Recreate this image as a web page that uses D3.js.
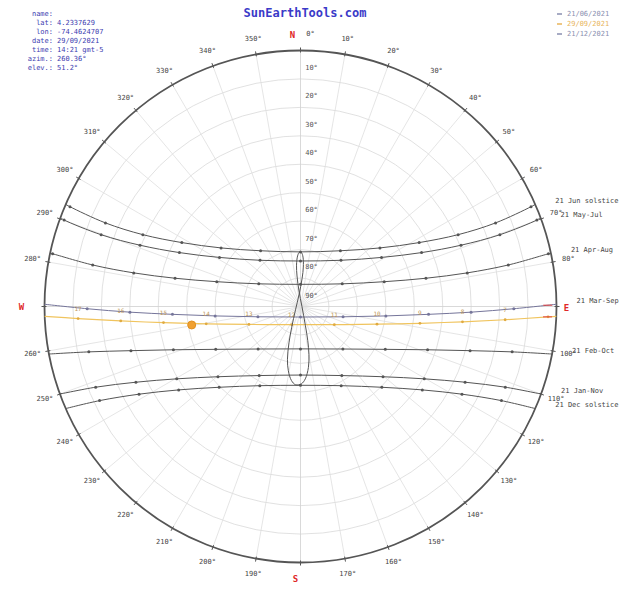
<!DOCTYPE html>
<html><head><meta charset="utf-8">
<script src="https://cdn.jsdelivr.net/npm/d3@7"></script>
<style>
html,body{margin:0;padding:0;background:#fff;}
svg{display:block;font-family:"DejaVu Sans Mono",monospace;}
</style></head><body>
<svg id="chart" width="623" height="590"></svg>
<script>
// Hourly sun positions [azimuth°, elevation°] for the 21st of each month pair
const junSolstice = [[66.6,1.7],[66.8,15.4],[65.5,29.1],[61.7,42.6],[53.6,55.3],[35.6,65.9],[0,70.8],[324.4,65.9],[306.4,55.3],[298.3,42.6],[294.5,29.1],[293.2,15.4],[293.4,1.7]];
const mayJul = [[69.9,1.5],[70.2,15.5],[69.1,29.6],[66.0,43.4],[58.8,56.7],[41.2,68.4],[0,74.0],[318.8,68.4],[301.2,56.7],[294.0,43.4],[290.9,29.6],[289.8,15.5],[290.1,1.5]];
const aprAug = [[78.0,0.9],[78.7,15.5],[78.6,30.2],[77.3,44.8],[73.5,59.3],[61.5,73.3],[0,82.2],[298.5,73.3],[286.5,59.3],[282.7,44.8],[281.4,30.2],[281.3,15.5],[282.0,0.9]];
const marSep = [[90.6,15.0],[91.9,30.0],[93.5,44.9],[96.3,59.8],[103.6,74.6],[180,86.3],[256.4,74.6],[263.7,59.8],[266.5,44.9],[268.1,30.0],[269.4,15.0]];
const febOct = [[102.1,13.9],[104.6,28.4],[108.8,42.8],[116.8,56.6],[135.1,68.9],[180,75.1],[224.9,68.9],[243.2,56.6],[251.2,42.8],[255.4,28.4],[257.9,13.9]];
const janNov = [[111.5,12.6],[114.7,26.3],[120.3,39.6],[130.4,51.9],[149.1,61.7],[180,65.9],[210.9,61.7],[229.6,51.9],[239.7,39.6],[245.3,26.3],[248.5,12.6]];
const decSolstice = [[115.1,12.0],[118.5,25.4],[124.4,38.1],[134.8,49.7],[152.8,58.7],[180,62.3],[207.2,58.7],[225.2,49.7],[235.6,38.1],[241.5,25.4],[244.9,12.0]];

const pathNames = ["21 Jun solstice","21 May-Jul","21 Apr-Aug","21 Mar-Sep","21 Feb-Oct","21 Jan-Nov","21 Dec solstice"];
const riseAz = [66.5, 69.7, 78.0, 89.5, 100.7, 110.0, 113.5];
const setAz  = [293.5, 290.3, 282.0, 270.5, 259.3, 250.0, 246.5];

// Selected day 29/09/2021, clock hours 6..17
const todayClock = [6,7,8,9,10,11,12,13,14,15,16,17];
const todayHours = [[92.4,2.9],[93.7,17.9],[95.4,32.8],[98.0,47.6],[103.0,62.4],[118.2,76.5],[205.7,82.9],[250.8,70.8],[259.6,56.3],[263.3,41.5],[265.4,26.6],[266.9,11.7]];
const todayRise = 92.2, todaySet = 267.8;
const sunNow = [260.36, 51.2];
const riseMarks = [[89.7,2.9],[92.4,2.9]];

// Analemma at 12:00 clock time (1st and 15th of each month)
const analemma = [[179.4,62.8],[176.2,64.5],[172.6,68.4],[170.0,72.9],[168.0,77.7],[165.5,83.2],[81.6,89.5],[354.4,84.5],[353.5,79.2],[354.5,75.4],[356.7,72.2],[358.8,70.9],[1.1,71.1],[2.9,72.6],[4.1,76.1],[3.3,80.1],[353.0,85.8],[236.6,87.9],[203.0,82.1],[197.6,76.6],[193.9,70.9],[190.7,67.0],[187.0,63.8],[183.5,62.4]];

const elevTicks = [10,20,30,40,50,60,70,80,90];
const azTicks = d3.range(0, 360, 10);
const infoKeys = ["name:","lat:","lon:","date:","time:","azim.:","elev.:"];
const infoVals = ["","4.2337629","-74.4624707","29/09/2021","14:21 gmt-5","260.36°","51.2°"];
const legendDates = ["21/06/2021","29/09/2021","21/12/2021"];
const legendColors = ["#8a8fb0","#e8b45a","#8a8fb0"];

const svg = d3.select("#chart");
const cx = 300.5, cy = 306.5, R = 256;
const rScale = d3.scaleLinear().domain([90, 0]).range([0, R]);
const toXY = (az, r) => { const a = az * Math.PI / 180; return [cx + r * Math.sin(a), cy - r * Math.cos(a)]; };
const proj = d => toXY(d[0], rScale(d[1]));

// grid
const grid = svg.append("g");
grid.selectAll("circle").data(elevTicks.filter(e => e < 90)).join("circle")
  .attr("cx", cx).attr("cy", cy).attr("r", d => rScale(d))
  .attr("fill", "none").attr("stroke", "#d9d9d9").attr("stroke-width", 0.8);
grid.selectAll("line").data(azTicks).join("line")
  .attr("x1", cx).attr("y1", cy)
  .attr("x2", d => toXY(d, R)[0]).attr("y2", d => toXY(d, R)[1])
  .attr("stroke", d => d % 90 === 0 ? "#cfcfcf" : "#dedede").attr("stroke-width", 0.8);

// elevation labels along north axis
svg.append("g").selectAll("text").data(elevTicks).join("text")
  .attr("x", cx + 11).attr("y", d => cy - rScale(d) - 9)
  .attr("text-anchor", "middle").attr("font-size", 7).attr("fill", "#555")
  .text(d => d + "°");

// outer horizon circle + ticks
svg.append("circle").attr("cx", cx).attr("cy", cy).attr("r", R)
  .attr("fill", "none").attr("stroke", "#555").attr("stroke-width", 1.8);
svg.append("g").selectAll("line").data(azTicks).join("line")
  .attr("x1", d => toXY(d, R - 2)[0]).attr("y1", d => toXY(d, R - 2)[1])
  .attr("x2", d => toXY(d, R + 3)[0]).attr("y2", d => toXY(d, R + 3)[1])
  .attr("stroke", "#555").attr("stroke-width", 1);

// azimuth labels
svg.append("g").selectAll("text").data(azTicks.filter(d => d % 90 !== 0 || d === 0)).join("text")
  .attr("x", d => toXY(d, R + 16)[0] + (d === 0 ? 10 : 0))
  .attr("y", d => toXY(d, R + 16)[1])
  .attr("text-anchor", "middle").attr("dominant-baseline", "middle")
  .attr("font-size", 7).attr("fill", "#444")
  .text(d => d + "°");

// cardinal points
const cardinals = [["N", cx - 8, cy - R - 15], ["E", cx + R + 10, cy + 2], ["S", cx - 5, cy + R + 17], ["W", cx - R - 23, cy + 1]];
svg.append("g").selectAll("text").data(cardinals).join("text")
  .attr("x", d => d[1]).attr("y", d => d[2])
  .attr("text-anchor", "middle").attr("dominant-baseline", "middle")
  .attr("font-size", 9).attr("font-weight", "bold").attr("fill", "#e02828")
  .text(d => d[0]);

// sun paths
const line = d3.line().curve(d3.curveCatmullRom.alpha(0.5));
const paths = [junSolstice, mayJul, aprAug, marSep, febOct, janNov, decSolstice];
const pathColor = (i) => i === 3 ? "#75759a" : "#555";
paths.forEach((hours, i) => {
  const pts = [[riseAz[i], 0], ...hours, [setAz[i], 0]].map(proj);
  svg.append("path").attr("d", line(pts)).attr("fill", "none")
    .attr("stroke", pathColor(i)).attr("stroke-width", 1);
  svg.append("g").selectAll("circle").data(hours).join("circle")
    .attr("cx", d => proj(d)[0]).attr("cy", d => proj(d)[1]).attr("r", 1.5)
    .attr("fill", pathColor(i));
  const p = proj([riseAz[i], 0]);
  svg.append("text").attr("x", p[0] + 20).attr("y", p[1] - 3)
    .attr("dominant-baseline", "middle").attr("font-size", 7).attr("fill", "#444")
    .text(pathNames[i]);
});

// selected day path
const todayPts = [[todayRise, 0], ...todayHours, [todaySet, 0]].map(proj);
svg.append("path").attr("d", line(todayPts)).attr("fill", "none")
  .attr("stroke", "#f0c45e").attr("stroke-width", 1.2);
svg.append("g").selectAll("circle").data(todayHours).join("circle")
  .attr("cx", d => proj(d)[0]).attr("cy", d => proj(d)[1]).attr("r", 1.4)
  .attr("fill", "#e0aa40");
svg.append("g").selectAll("text").data(todayHours.slice(1)).join("text")
  .attr("x", d => proj(d)[0]).attr("y", d => proj(d)[1] - 8)
  .attr("text-anchor", "middle").attr("font-size", 6).attr("fill", "#c09858")
  .text((d, i) => todayClock[i + 1]);
svg.append("g").selectAll("line").data(riseMarks).join("line")
  .attr("x1", d => proj(d)[0] - 5).attr("x2", d => proj(d)[0] + 4)
  .attr("y1", d => proj(d)[1]).attr("y2", d => proj(d)[1])
  .attr("stroke", "#e04040").attr("stroke-width", 1);

// analemma
svg.append("path").attr("d", d3.line().curve(d3.curveCatmullRomClosed)(analemma.map(proj)))
  .attr("fill", "none").attr("stroke", "#555").attr("stroke-width", 1);

// current sun position
const s = proj(sunNow);
svg.append("circle").attr("cx", s[0]).attr("cy", s[1]).attr("r", 4)
  .attr("fill", "#f0a030").attr("stroke", "#e09020");

// title
svg.append("text").attr("x", 305).attr("y", 17).attr("text-anchor", "middle")
  .attr("font-size", 12).attr("font-weight", "bold").attr("fill", "#3a3ac8")
  .text("SunEarthTools.com");

// info block
const info = svg.append("g").attr("font-size", 7).attr("fill", "#3c3cb0");
info.selectAll("text.k").data(infoKeys).join("text").attr("class", "k")
  .attr("x", 53).attr("y", (d, i) => 16 + i * 9).attr("text-anchor", "end").text(d => d);
info.selectAll("text.v").data(infoVals).join("text").attr("class", "v")
  .attr("x", 57).attr("y", (d, i) => 16 + i * 9).text(d => d);

// legend
const lg = svg.append("g");
lg.selectAll("line").data(legendDates).join("line")
  .attr("x1", 557).attr("x2", 562).attr("y1", (d, i) => 14 + i * 10).attr("y2", (d, i) => 14 + i * 10)
  .attr("stroke", (d, i) => legendColors[i]).attr("stroke-width", 1.5);
lg.selectAll("text").data(legendDates).join("text")
  .attr("x", 567).attr("y", (d, i) => 14 + i * 10).attr("dominant-baseline", "middle")
  .attr("font-size", 7).attr("fill", (d, i) => legendColors[i]).text(d => d);
</script>
</body></html>
